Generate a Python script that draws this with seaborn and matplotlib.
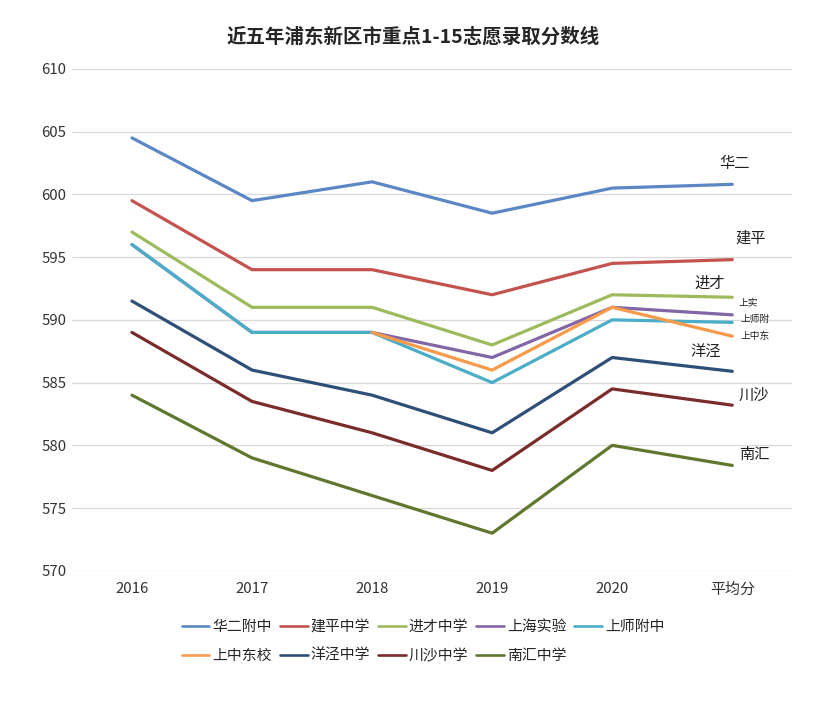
import numpy as np
import pandas as pd
import matplotlib
matplotlib.use('Agg')
import matplotlib.pyplot as plt
import seaborn as sns

# categories on the x axis
years = ['2016', '2017', '2018', '2019', '2020', '平均分']

# admission scores per school (NaN = no data that year)
hua_er = [604.5, 599.5, 601, 598.5, 600.5, 600.8]
jian_ping = [599.5, 594, 594, 592, 594.5, 594.8]
jin_cai = [597, 591, 591, 588, 592, 591.8]
shang_shi = [596, 589, 589, 587, 591, 590.4]
shang_shi_fu = [596, 589, 589, 585, 590, 589.8]
shang_zhong_dong = [np.nan, np.nan, 589, 586, 591, 588.7]
yang_jing = [591.5, 586, 584, 581, 587, 585.9]
chuan_sha = [589, 583.5, 581, 578, 584.5, 583.2]
nan_hui = [584, 579, 576, 573, 580, 578.4]

schools = ['华二附中', '建平中学', '进才中学', '上海实验', '上师附中',
           '上中东校', '洋泾中学', '川沙中学', '南汇中学']
series = [hua_er, jian_ping, jin_cai, shang_shi, shang_shi_fu,
          shang_zhong_dong, yang_jing, chuan_sha, nan_hui]
colors = ['#5B87C5', '#C4534F', '#9DBB5C', '#8266A6', '#4BADC8',
          '#F79A4A', '#2E4F78', '#7A2C2A', '#60772F']

# short labels next to the last point
short_names = ['华二', '建平', '进才', '上实', '上师附', '上中东', '洋泾', '川沙', '南汇']

rows = []
for name, vals in zip(schools, series):
    for y, v in zip(years, vals):
        rows.append({'year': y, 'score': v, 'school': name})
df = pd.DataFrame(rows).dropna()

sns.set_style('white')
plt.rcParams['font.family'] = ['Noto Sans CJK SC', 'DejaVu Sans']

fig = plt.figure(figsize=(8.27, 7.03), dpi=100)
ax = fig.add_axes([0.087, 0.188, 0.871, 0.714])

sns.lineplot(data=df, x='year', y='score', hue='school', hue_order=schools,
             palette=dict(zip(schools, colors)), linewidth=2.3, ax=ax,
             sort=False, legend=True)

ax.set_xlim(-0.5, 5.5)
ax.set_ylim(570, 610)
ax.set_yticks(range(570, 611, 5))
ax.grid(axis='y', color='#D9D9D9', linewidth=0.9)
ax.set_axisbelow(True)
for s in ax.spines.values():
    s.set_visible(False)
ax.tick_params(length=0, labelsize=10.8, colors='#333333')
ax.tick_params(axis='y', pad=4)
ax.tick_params(axis='x', pad=8)
ax.set_xlabel('')
ax.set_ylabel('')

# end labels
label_pos = [(5.02, 602.5, 11), (5.15, 596.5, 11), (4.81, 592.9, 11),
             (5.13, 591.4, 7), (5.19, 590.1, 7), (5.19, 588.7, 7),
             (4.78, 587.45, 11), (5.18, 583.95, 11), (5.18, 579.3, 11)]
for txt, (x, y, fs) in zip(short_names, label_pos):
    ax.text(x, y, txt, ha='center', va='center', fontsize=fs, color='#222222')

fig.suptitle('近五年浦东新区市重点1-15志愿录取分数线', x=0.5, y=0.962,
             fontsize=14, fontweight='bold')

# legend row by row
handles, labels = ax.get_legend_handles_labels()
ax.legend_.remove()
order = [0, 5, 1, 6, 2, 7, 3, 8, 4]
leg = fig.legend([handles[i] for i in order], [labels[i] for i in order],
                 ncol=5, loc='upper left', bbox_to_anchor=(0.22, 0.118),
                 frameon=False, fontsize=10.7, handlelength=1.85,
                 handletextpad=0.2, columnspacing=0.55, labelspacing=1.0,
                 borderaxespad=0, borderpad=0)
for line in leg.get_lines():
    line.set_linewidth(1.9)

fig.savefig('out.png', dpi=100)
